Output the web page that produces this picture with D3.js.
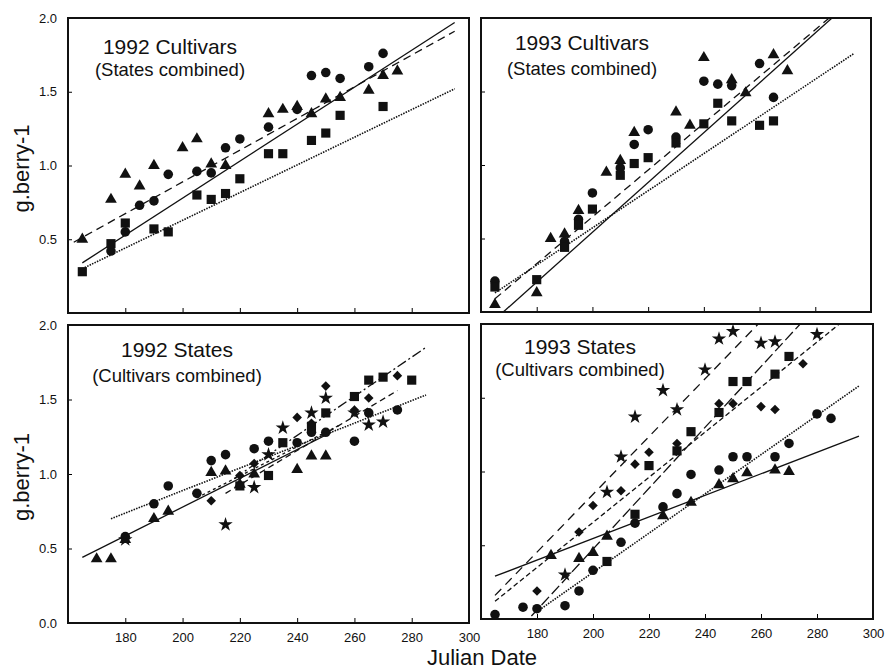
<!DOCTYPE html>
<html>
<head>
<meta charset="utf-8">
<script src="https://cdn.jsdelivr.net/npm/d3@7/dist/d3.min.js"></script>
<style>
    body { margin: 0; background: #fff; }
    svg { display: block; font-family: 'Liberation Sans', Arial, sans-serif; }
</style>
</head>
<body>
<div id="chart"></div>
<script>
// ---- Data: [julian day, g/berry] ----

// 1992 Cultivars (states combined)
const c92Tri = [[165,0.50],[175,0.77],[180,0.94],[185,0.86],[190,1.00],[200,1.12],[205,1.18],[210,1.01],[215,1.00],[230,1.35],[235,1.38],[240,1.40],[245,1.35],[250,1.45],[255,1.46],[265,1.51],[270,1.61],[275,1.64]];
const c92Cir = [[175,0.42],[180,0.55],[185,0.73],[190,0.76],[195,0.94],[205,0.96],[210,0.95],[215,1.12],[220,1.18],[230,1.26],[240,1.38],[245,1.61],[250,1.63],[255,1.59],[265,1.67],[270,1.76]];
const c92Sq  = [[165,0.28],[175,0.47],[180,0.61],[190,0.57],[195,0.55],[205,0.80],[210,0.77],[215,0.81],[220,0.91],[230,1.08],[235,1.08],[245,1.17],[250,1.22],[255,1.34],[270,1.40]];
const c92FitSolid  = [[165,0.34],[295,1.97]];
const c92FitDashed = [[162,0.48],[295,1.91]];
const c92FitDotted = [[165,0.30],[295,1.52]];

// 1993 Cultivars (states combined)
const c93Tri = [[165,0.05],[180,0.13],[185,0.50],[190,0.53],[195,0.69],[205,0.95],[210,1.03],[215,1.22],[230,1.36],[235,1.27],[240,1.73],[250,1.58],[255,1.49],[265,1.75],[270,1.64]];
const c93Cir = [[165,0.21],[190,0.48],[195,0.63],[200,0.81],[210,0.98],[215,1.14],[220,1.24],[230,1.19],[240,1.57],[245,1.55],[250,1.54],[260,1.69],[265,1.46]];
const c93Sq  = [[165,0.17],[180,0.22],[190,0.44],[195,0.59],[200,0.70],[210,0.93],[215,1.01],[220,1.05],[230,1.15],[240,1.28],[245,1.42],[250,1.30],[260,1.27],[265,1.30]];
const c93FitSolid  = [[168,0.00],[286,2.00]];
const c93FitDashed = [[165,0.09],[285,2.00]];
const c93FitDotted = [[165,0.13],[294,1.76]];

// 1992 States (cultivars combined)
const s92Tri  = [[170,0.43],[175,0.43],[180,0.56],[190,0.70],[195,0.75],[210,1.01],[215,1.02],[220,0.93],[225,1.00],[240,1.03],[245,1.12],[250,1.12]];
const s92Cir  = [[180,0.58],[190,0.80],[195,0.92],[205,0.87],[210,1.09],[215,1.13],[225,1.17],[230,1.22],[240,1.21],[245,1.28],[250,1.28],[260,1.22],[265,1.41],[275,1.43]];
const s92Sq   = [[220,0.92],[230,0.99],[235,1.21],[245,1.32],[250,1.41],[260,1.52],[265,1.63],[270,1.65],[280,1.63]];
const s92Dia  = [[210,0.82],[220,0.99],[225,1.07],[240,1.38],[245,1.34],[250,1.59],[260,1.43],[265,1.51],[275,1.66]];
const s92Star = [[180,0.56],[215,0.66],[225,0.91],[230,1.13],[235,1.31],[245,1.41],[250,1.51],[260,1.41],[265,1.33],[270,1.35]];
const s92FitTri  = [[165,0.44],[252,1.28]];
const s92FitCir  = [[175,0.70],[285,1.53]];
const s92FitSq   = [[218,0.97],[285,1.85]];
const s92FitDia  = [[215,0.87],[275,1.56]];
const s92FitStar = [[205,0.84],[255,1.33]];

// 1993 States (cultivars combined)
const s93Tri  = [[185,0.43],[195,0.41],[200,0.45],[205,0.56],[225,0.70],[235,0.79],[245,0.91],[250,0.95],[255,0.99],[265,1.01],[270,1.00]];
const s93Cir  = [[165,0.03],[175,0.08],[180,0.07],[190,0.09],[195,0.19],[200,0.33],[210,0.52],[215,0.65],[225,0.76],[230,0.85],[235,0.98],[245,1.01],[250,1.10],[255,1.10],[265,1.10],[270,1.19],[280,1.39],[285,1.36]];
const s93Sq   = [[205,0.39],[215,0.71],[220,1.04],[230,1.14],[235,1.27],[245,1.40],[250,1.61],[255,1.61],[265,1.66],[270,1.78]];
const s93Dia  = [[180,0.19],[195,0.59],[200,0.77],[210,0.87],[215,1.05],[220,1.13],[230,1.19],[245,1.46],[250,1.46],[260,1.44],[265,1.42],[275,1.73]];
const s93Star = [[190,0.30],[205,0.86],[210,1.10],[215,1.37],[225,1.55],[230,1.42],[240,1.69],[245,1.90],[250,1.95],[260,1.87],[265,1.88],[280,1.93]];
const s93FitTri  = [[165,0.29],[295,1.24]];
const s93FitCir  = [[180,0.05],[295,1.58]];
const s93FitSq   = [[178,0.02],[274,2.00]];
const s93FitDia  = [[165,0.12],[288,2.00]];
const s93FitStar = [[165,0.16],[259,2.00]];

// Axis values
const xDomain = [160, 300];
const yDomain = [0, 2];
const xTicks = [180, 200, 220, 240, 260, 280, 300];
const yTicks = [0, 0.5, 1.0, 1.5, 2.0];

// ---- Panel layout ----
const width = 888, height = 671;

const panels = [
    {
        id: 'p1', left: 68, right: 469, top: 18, bottom: 313,
        title: '1992 Cultivars', sub: '(States combined)', tx: 170, ty: 54, sy: 76,
        yLabels: [0.5, 1.0, 1.5, 2.0], xLabels: false,
        series: [[c92Tri, 'tri'], [c92Cir, 'cir'], [c92Sq, 'sq']],
        fits: [[c92FitSolid, null], [c92FitDashed, '8,5'], [c92FitDotted, '1.5,1.2']]
    },
    {
        id: 'p2', left: 481, right: 871, top: 18, bottom: 312,
        title: '1993 Cultivars', sub: '(States combined)', tx: 582, ty: 50, sy: 75,
        yLabels: null, xLabels: false,
        series: [[c93Tri, 'tri'], [c93Cir, 'cir'], [c93Sq, 'sq']],
        fits: [[c93FitSolid, null], [c93FitDashed, '8,5'], [c93FitDotted, '1.5,1.2']]
    },
    {
        id: 'p3', left: 68, right: 469, top: 325, bottom: 623,
        title: '1992 States', sub: '(Cultivars combined)', tx: 177, ty: 357, sy: 382,
        yLabels: yTicks, xLabels: true,
        series: [[s92Tri, 'tri'], [s92Cir, 'cir'], [s92Sq, 'sq'], [s92Dia, 'dia'], [s92Star, 'star']],
        fits: [[s92FitTri, null], [s92FitCir, '1.5,1.2'], [s92FitSq, '10,3,2,3'], [s92FitDia, '6,4'], [s92FitStar, '3,3']]
    },
    {
        id: 'p4', left: 481, right: 873, top: 324, bottom: 619,
        title: '1993 States', sub: '(Cultivars combined)', tx: 580, ty: 354, sy: 376,
        yLabels: null, xLabels: true,
        series: [[s93Tri, 'tri'], [s93Cir, 'cir'], [s93Sq, 'sq'], [s93Dia, 'dia'], [s93Star, 'star']],
        fits: [[s93FitTri, null], [s93FitCir, '1.5,1.2'], [s93FitSq, '11,4'], [s93FitDia, '5,3'], [s93FitStar, '9,6']]
    }
];

// Marker generators
const symbols = {
    tri: d3.symbol().type(d3.symbolTriangle).size(60),
    cir: d3.symbol().type(d3.symbolCircle).size(72),
    sq: d3.symbol().type(d3.symbolSquare).size(84),
    dia: d3.symbol().type(d3.symbolSquare).size(46),
    star: d3.symbol().type(d3.symbolStar).size(64)
};

const svg = d3.select('#chart')
    .append('svg')
    .attr('width', width)
    .attr('height', height);

svg.append('rect')
    .attr('width', width)
    .attr('height', height)
    .attr('fill', '#fff');

panels.forEach(p => {
    const x = d3.scaleLinear().domain(xDomain).range([p.left, p.right]);
    const y = d3.scaleLinear().domain(yDomain).range([p.bottom, p.top]);

    // Clip so fit lines stop at the frame
    svg.append('clipPath')
        .attr('id', `clip-${p.id}`)
        .append('rect')
        .attr('x', p.left)
        .attr('y', p.top)
        .attr('width', p.right - p.left)
        .attr('height', p.bottom - p.top);

    const g = svg.append('g');

    // Fit lines
    const line = d3.line()
        .x(d => x(d[0]))
        .y(d => y(d[1]));

    g.append('g')
        .attr('clip-path', `url(#clip-${p.id})`)
        .selectAll('path')
        .data(p.fits)
        .enter()
        .append('path')
        .attr('d', d => line(d[0]))
        .attr('fill', 'none')
        .attr('stroke', '#111')
        .attr('stroke-width', d => d[1] === '1.5,1.2' ? 1.6 : 1.3)
        .attr('stroke-dasharray', d => d[1]);

    // Markers
    p.series.forEach(([data, shape]) => {
        g.selectAll(null)
            .data(data)
            .enter()
            .append('path')
            .attr('d', symbols[shape])
            .attr('transform', d => `translate(${x(d[0])},${y(d[1])})` + (shape === 'dia' ? ' rotate(45)' : ''))
            .attr('fill', '#111');
    });

    // X axis (inward ticks)
    const xAxis = d3.axisBottom(x)
        .tickValues(p.xLabels ? xTicks : xTicks.slice(0, -1))
        .tickSizeInner(-5)
        .tickSizeOuter(0)
        .tickPadding(10)
        .tickFormat(p.xLabels ? d3.format('d') : '');

    const xg = g.append('g')
        .attr('transform', `translate(0,${p.bottom})`)
        .call(xAxis);
    xg.select('.domain').remove();
    xg.selectAll('text').style('font-size', '13px').attr('fill', '#111');

    // Y axis (inward ticks)
    const yAxis = d3.axisLeft(y)
        .tickValues(p.yLabels ? p.yLabels : [0.5, 1.0, 1.5])
        .tickSizeInner(-4)
        .tickSizeOuter(0)
        .tickPadding(11)
        .tickFormat(p.yLabels ? d3.format('.1f') : '');

    const yg = g.append('g')
        .attr('transform', `translate(${p.left},0)`)
        .call(yAxis);
    yg.select('.domain').remove();
    yg.selectAll('text').style('font-size', '13px').attr('fill', '#111');

    // Frame
    g.append('rect')
        .attr('x', p.left)
        .attr('y', p.top)
        .attr('width', p.right - p.left)
        .attr('height', p.bottom - p.top)
        .attr('fill', 'none')
        .attr('stroke', '#111')
        .attr('stroke-width', 2);

    // Panel titles
    g.append('text')
        .attr('x', p.tx)
        .attr('y', p.ty)
        .attr('text-anchor', 'middle')
        .style('font-size', '21px')
        .attr('fill', '#111')
        .text(p.title);

    g.append('text')
        .attr('x', p.tx)
        .attr('y', p.sy)
        .attr('text-anchor', 'middle')
        .style('font-size', '18.5px')
        .attr('fill', '#111')
        .text(p.sub);

    // Y axis label for left panels
    if (p.yLabels) {
        g.append('text')
            .attr('transform', `translate(29,${(p.top + p.bottom) / 2 + 3}) rotate(-90)`)
            .attr('text-anchor', 'middle')
            .style('font-size', '22px')
            .attr('fill', '#111')
            .text('g.berry-1');
    }
});

// X axis title
svg.append('text')
    .attr('x', 482)
    .attr('y', 665)
    .attr('text-anchor', 'middle')
    .style('font-size', '22px')
    .attr('fill', '#111')
    .text('Julian Date');
</script>
</body>
</html>
